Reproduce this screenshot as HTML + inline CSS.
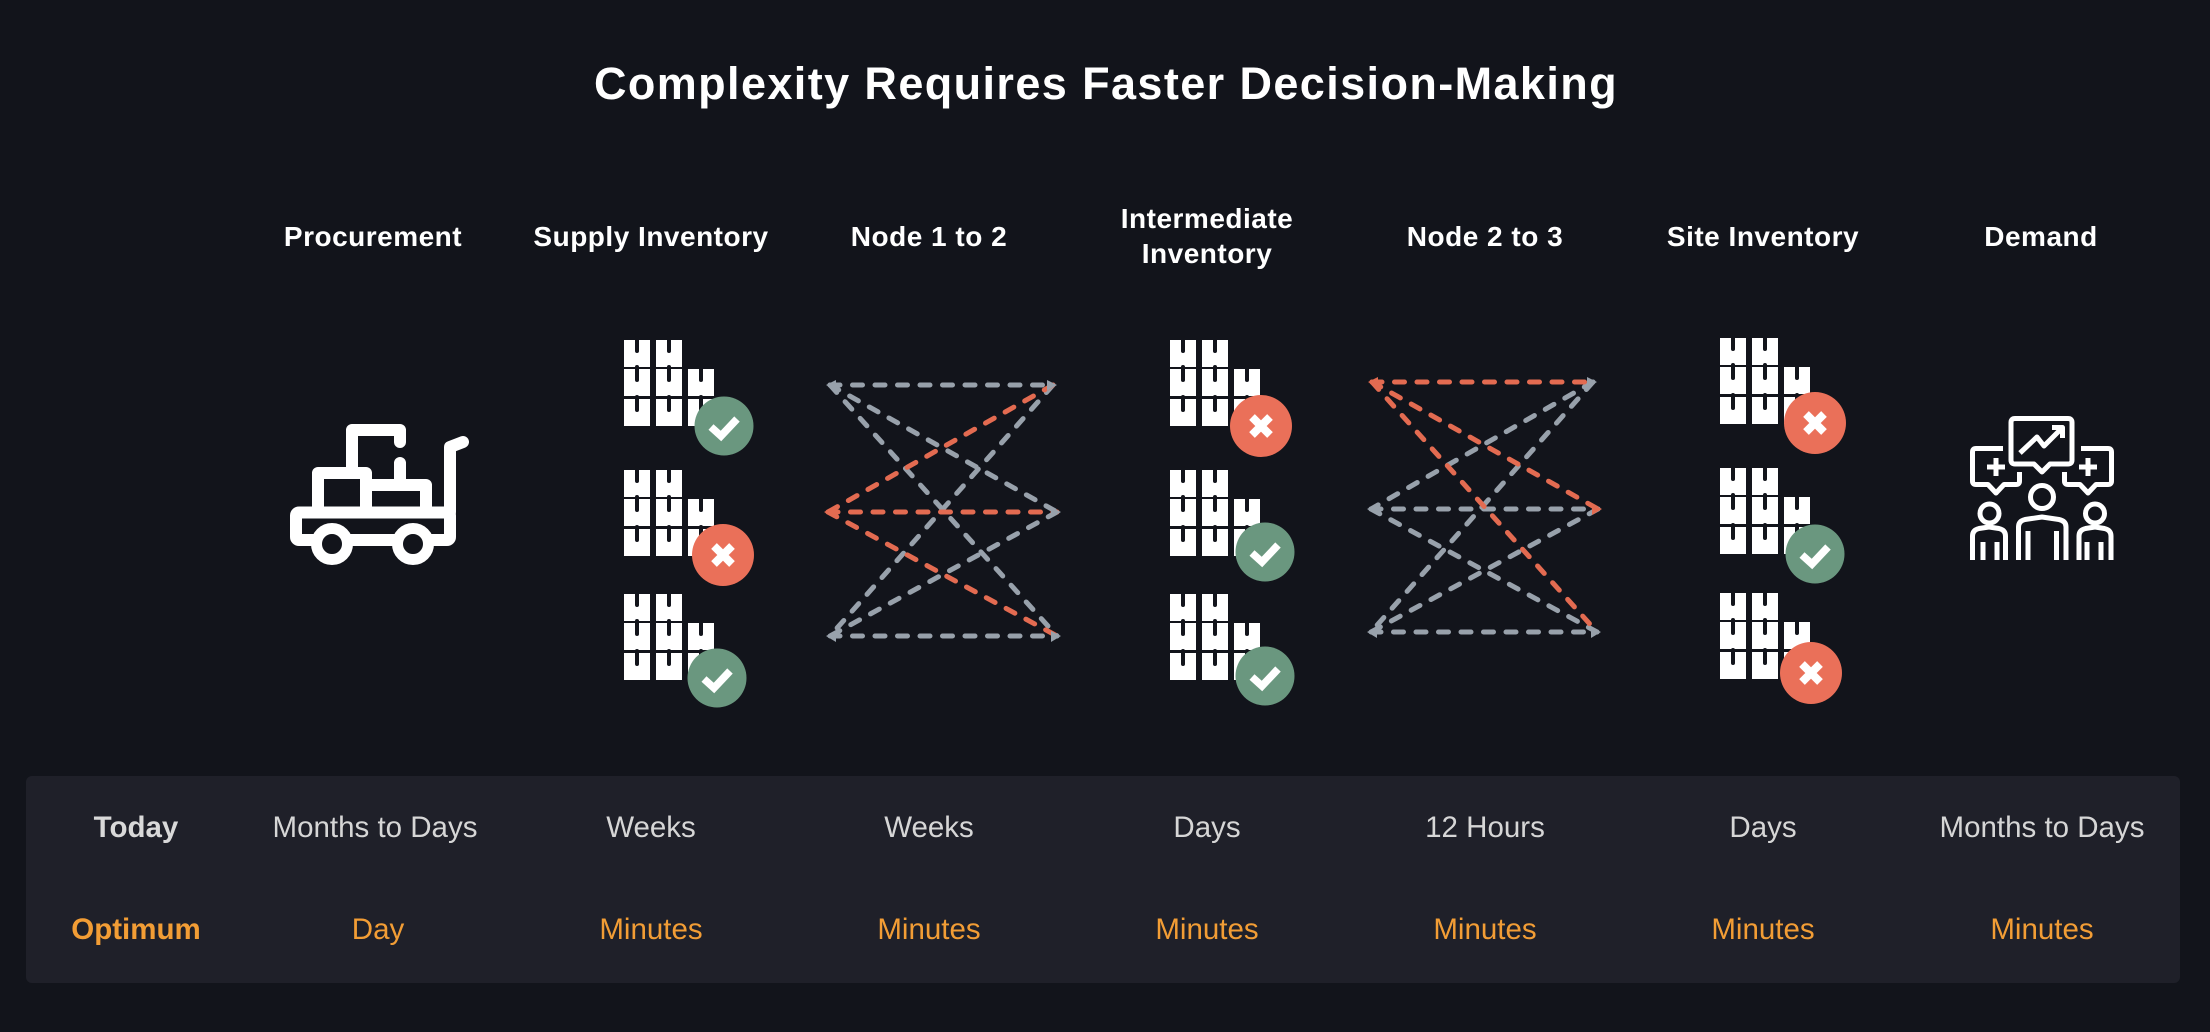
<!DOCTYPE html>
<html><head><meta charset="utf-8"><style>
html,body{margin:0;padding:0;background:#12141b;}
svg{display:block;}
text{font-family:"Liberation Sans",Arial,sans-serif;}
</style></head><body>
<svg width="2210" height="1032" viewBox="0 0 2210 1032" xmlns="http://www.w3.org/2000/svg">
<defs>
<g id="stack">
  <g fill="#ffffff">
    <rect x="0" y="0" width="26" height="27"/><rect x="32" y="0" width="26" height="27"/>
    <rect x="0" y="29" width="26" height="27"/><rect x="32" y="29" width="26" height="27"/><rect x="64" y="29" width="26" height="27"/>
    <rect x="0" y="59" width="26" height="27"/><rect x="32" y="59" width="26" height="27"/><rect x="64" y="59" width="26" height="27"/>
  </g>
  <g stroke="#12141b" stroke-width="4" stroke-linecap="round">
    <line x1="13" y1="-2" x2="13" y2="11"/><line x1="45" y1="-2" x2="45" y2="11"/>
    <line x1="13" y1="27" x2="13" y2="40"/><line x1="45" y1="27" x2="45" y2="40"/><line x1="77" y1="27" x2="77" y2="40"/>
    <line x1="13" y1="57" x2="13" y2="70"/><line x1="45" y1="57" x2="45" y2="70"/><line x1="77" y1="57" x2="77" y2="70"/>
  </g>
</g>
<g id="ok"><circle r="29.5" fill="#6a977f"/><path d="M-13,1 L-3,10 L13,-7" fill="none" stroke="#fff" stroke-width="7.5"/></g>
<g id="no"><circle r="31" fill="#ea7059"/><path d="M-9,-9 L9,9 M9,-9 L-9,9" fill="none" stroke="#fff" stroke-width="8"/></g>
</defs>

<!-- Title -->
<text x="1106" y="99" font-size="45" font-weight="bold" fill="#ffffff" text-anchor="middle" letter-spacing="1.4">Complexity Requires Faster Decision-Making</text>

<!-- Headers -->
<g font-size="28" font-weight="bold" fill="#ffffff" text-anchor="middle" letter-spacing="0.5">
<text x="373" y="246">Procurement</text>
<text x="651" y="246">Supply Inventory</text>
<text x="929" y="246">Node 1 to 2</text>
<text x="1207" y="228">Intermediate</text>
<text x="1207" y="263">Inventory</text>
<text x="1485" y="246">Node 2 to 3</text>
<text x="1763" y="246">Site Inventory</text>
<text x="2041" y="246">Demand</text>
</g>

<!-- Truck -->
<g stroke="#fff" stroke-width="12" fill="none" stroke-linecap="round" stroke-linejoin="round">
<rect x="296" y="512.5" width="154" height="27.5" rx="3"/>
<path d="M450,512 V447 L463,442"/>
<path d="M318,512 V473 H366 V512"/>
<path d="M366,485 H426 V512"/>
<path d="M352,473 V430 H400 V442 M400,463 V485"/>
<circle cx="332" cy="544" r="15.5" fill="#12141b" stroke-width="11"/>
<circle cx="413" cy="544" r="15.5" fill="#12141b" stroke-width="11"/>
</g>

<!-- Supply inventory -->
<use href="#stack" x="624" y="340"/><use href="#ok" x="724" y="426"/>
<use href="#stack" x="624" y="470"/><use href="#no" x="723" y="555"/>
<use href="#stack" x="624" y="594"/><use href="#ok" x="717" y="678"/>

<!-- Intermediate inventory -->
<use href="#stack" x="1170" y="340"/><use href="#no" x="1261" y="426"/>
<use href="#stack" x="1170" y="470"/><use href="#ok" x="1265" y="552"/>
<use href="#stack" x="1170" y="594"/><use href="#ok" x="1265" y="676"/>

<!-- Site inventory -->
<use href="#stack" x="1720" y="338"/><use href="#no" x="1815" y="423"/>
<use href="#stack" x="1720" y="468"/><use href="#ok" x="1815" y="554"/>
<use href="#stack" x="1720" y="593"/><use href="#no" x="1811" y="673"/>

<!-- Node 1 to 2 -->
<g fill="none" stroke-width="5" stroke-linecap="round" stroke-dasharray="10 12.5">
<g stroke="#98a1ab">
<line x1="830" y1="385" x2="1053" y2="385"/>
<line x1="830" y1="385" x2="1057" y2="512"/>
<line x1="830" y1="385" x2="1057" y2="636"/>
<line x1="1053" y1="385" x2="830" y2="636"/>
<line x1="1057" y1="512" x2="830" y2="636"/>
<line x1="830" y1="636" x2="1057" y2="636"/>
</g>
<g stroke="#e36b51">
<line x1="1053" y1="385" x2="828" y2="512"/>
<line x1="828" y1="512" x2="1057" y2="512"/>
<line x1="828" y1="512" x2="1057" y2="636"/>
</g>
</g>
<g>
<polygon points="826,385 836,380 836,391" fill="#98a1ab"/>
<polygon points="1057,385 1047,380 1047,391" fill="#98a1ab"/>
<polygon points="824,512 834,507 834,518" fill="#e36b51"/>
<polygon points="1061,512 1051,507 1051,518" fill="#98a1ab"/>
<polygon points="826,636 836,631 836,642" fill="#98a1ab"/>
<polygon points="1061,636 1051,631 1051,642" fill="#98a1ab"/>
</g>

<!-- Node 2 to 3 -->
<g fill="none" stroke-width="5" stroke-linecap="round" stroke-dasharray="10 12.5">
<g stroke="#98a1ab">
<line x1="1593" y1="382" x2="1371" y2="509"/>
<line x1="1593" y1="382" x2="1371" y2="632"/>
<line x1="1371" y1="509" x2="1598" y2="509"/>
<line x1="1371" y1="509" x2="1597" y2="632"/>
<line x1="1598" y1="509" x2="1371" y2="632"/>
<line x1="1371" y1="632" x2="1597" y2="632"/>
</g>
<g stroke="#e36b51">
<line x1="1372" y1="382" x2="1593" y2="382"/>
<line x1="1372" y1="382" x2="1598" y2="509"/>
<line x1="1372" y1="382" x2="1597" y2="632"/>
</g>
</g>
<g>
<polygon points="1368,382 1378,377 1378,388" fill="#e36b51"/>
<polygon points="1597,382 1587,377 1587,388" fill="#98a1ab"/>
<polygon points="1367,509 1377,504 1377,515" fill="#98a1ab"/>
<polygon points="1602,509 1592,504 1592,515" fill="#e36b51"/>
<polygon points="1367,632 1377,627 1377,638" fill="#98a1ab"/>
<polygon points="1601,632 1591,627 1591,638" fill="#98a1ab"/>
</g>

<!-- Demand icon -->
<g stroke="#fff" stroke-width="5" fill="none" stroke-linejoin="round">
<path d="M2015,418.5 H2068 Q2072,418.5 2072,422.5 V460 Q2072,464 2068,464 H2050 L2042,472 L2034,464 H2015 Q2011,464 2011,460 V422.5 Q2011,418.5 2015,418.5 Z"/>
<polyline points="2020,453 2037,437 2044,446 2062,428"/>
<polyline points="2052,427.5 2062.5,427.5 2062.5,438"/>
<path d="M2003,448.5 H1976 Q1972.5,448.5 1972.5,452 V481 Q1972.5,484.5 1976,484.5 H1988 L1996,493 L2004,484.5 H2016 Q2019.5,484.5 2019.5,481 V472"/>
<path d="M1987,467 H2005 M1996,458 V476"/>
<path d="M2081,448.5 H2108 Q2111.5,448.5 2111.5,452 V481 Q2111.5,484.5 2108,484.5 H2096 L2088,493 L2080,484.5 H2068 Q2064.5,484.5 2064.5,481 V472"/>
<path d="M2079,467 H2097 M2088,458 V476"/>
<circle cx="1989.5" cy="513.5" r="9.5"/>
<path d="M1972.5,560 V536 Q1972.5,530 1979,528.5 L1989,527 L1999,528.5 Q2005.5,530 2005.5,536 V560"/>
<path d="M1983,542 V560 M1997,542 V560"/>
<circle cx="2042" cy="497" r="11.5"/>
<path d="M2018.5,560 V527 Q2018.5,521 2025,519.5 L2042,517 L2059,519.5 Q2066,521 2066,527 V560"/>
<path d="M2028,531 V560 M2056.5,531 V560"/>
<circle cx="2095" cy="513.5" r="9.5"/>
<path d="M2079,560 V536 Q2079,530 2085.5,528.5 L2095,527 L2104.5,528.5 Q2111,530 2111,536 V560"/>
<path d="M2087,542 V560 M2101,542 V560"/>
</g>

<!-- Table -->
<rect x="26" y="776" width="2154" height="207" rx="6" fill="#1f2029"/>
<g font-size="29.5" text-anchor="middle">
<text x="136" y="837" font-weight="bold" fill="#d9d9d9">Today</text>
<g fill="#d6d6d6">
<text x="375" y="837">Months to Days</text>
<text x="651" y="837">Weeks</text>
<text x="929" y="837">Weeks</text>
<text x="1207" y="837">Days</text>
<text x="1485" y="837">12 Hours</text>
<text x="1763" y="837">Days</text>
<text x="2042" y="837">Months to Days</text>
</g>
<text x="136" y="939" font-weight="bold" fill="#f29d35">Optimum</text>
<g fill="#f29d35">
<text x="378" y="939">Day</text>
<text x="651" y="939">Minutes</text>
<text x="929" y="939">Minutes</text>
<text x="1207" y="939">Minutes</text>
<text x="1485" y="939">Minutes</text>
<text x="1763" y="939">Minutes</text>
<text x="2042" y="939">Minutes</text>
</g>
</g>
</svg>
</body></html>
